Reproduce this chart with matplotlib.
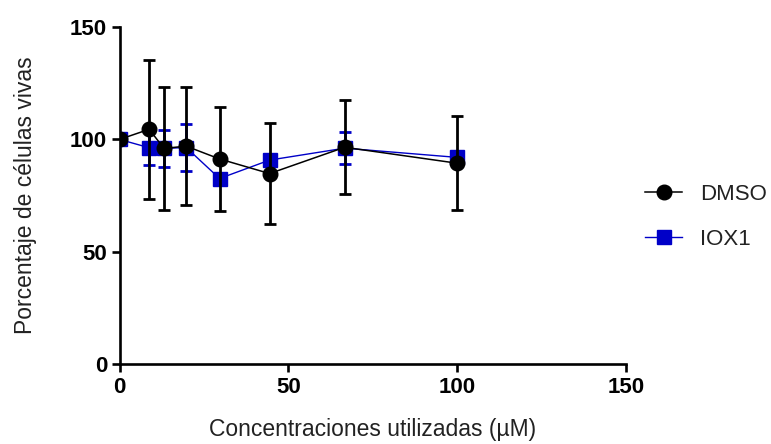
import numpy as np
import matplotlib.pyplot as plt

plt.rcParams['font.family'] = ['Liberation Sans', 'DejaVu Sans']

# concentrations (uM), 2/3 serial dilution
conc = [0, 8.78, 13.17, 19.75, 29.63, 44.44, 66.67, 100]

dmso_mean = [100, 104.5, 96, 97, 91.3, 84.8, 96.5, 89.4]
dmso_sd = [0, 31, 27.5, 26.2, 23, 22.5, 21, 21]

iox1_mean = [100, 96.3, 96, 96.4, 82.6, 90.8, 96.1, 92]
iox1_sd = [0, 7.7, 8.4, 10.4, 1.5, 1.5, 7, 2.5]

blue = '#0000C8'

fig = plt.figure(figsize=(7.71, 4.44), dpi=100)
ax = fig.add_axes([0.155, 0.18, 0.657, 0.759])

ax.errorbar(conc, iox1_mean, yerr=iox1_sd, color=blue, marker='s', markersize=9.5,
            linewidth=1.0, elinewidth=2.0, capsize=4.5, capthick=2.0, label='IOX1', zorder=3)
ax.errorbar(conc, dmso_mean, yerr=dmso_sd, color='black', marker='o', markersize=10.5,
            linewidth=1.1, elinewidth=2.0, capsize=4.5, capthick=2.0, label='DMSO', zorder=4)

ax.set_xlim(0, 150)
ax.set_ylim(0, 150)
ax.set_xticks([0, 50, 100, 150])
ax.set_yticks([0, 50, 100, 150])
ax.spines['top'].set_visible(False)
ax.spines['right'].set_visible(False)
for s in ['left', 'bottom']:
    ax.spines[s].set_linewidth(1.9)
ax.tick_params(width=1.9, length=6, labelsize=16, direction='out', pad=3)
for lab in ax.get_xticklabels() + ax.get_yticklabels():
    lab.set_fontweight('bold')

ax.set_xlabel('Concentraciones utilizadas (\u00b5M)', fontsize=16.5, color='#222222', labelpad=15)
ax.set_ylabel('Porcentaje de células vivas', fontsize=16.5, color='#222222', labelpad=24)

# legend: line + marker only, no error bars
handles, labels = ax.get_legend_handles_labels()
order = [1, 0]
leg = fig.legend([handles[i][0] for i in order], [labels[i] for i in order],
                 loc='center left', bbox_to_anchor=(645 / 771, 0.511),
                 bbox_transform=fig.transFigure, frameon=False, borderpad=0,
                 borderaxespad=0, fontsize=16, handlelength=1.67,
                 labelspacing=1.08, handletextpad=0.8)
for t in leg.get_texts():
    t.set_color('#222222')

fig.savefig('out.png', dpi=100)
